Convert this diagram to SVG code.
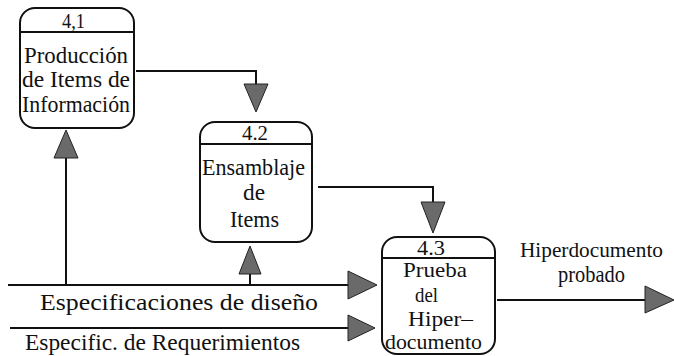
<svg xmlns="http://www.w3.org/2000/svg" width="674" height="356" viewBox="0 0 674 356">
<style>
.box{fill:#fff;stroke:#111;stroke-width:2}
.hdr{stroke:#111;stroke-width:2.2}
.ln{fill:none;stroke:#111;stroke-width:2}
.ah{fill:#6a6a6a;stroke:#222;stroke-width:1}
text{font-family:"Liberation Serif","DejaVu Serif",serif;font-size:24px;fill:#111}
text.num{font-size:20px}
text.sm{font-size:22px}
</style>
<rect width="674" height="356" fill="#fff"/>
<g id="connectors">
<polyline class="ln" points="136,71 256,71 256,84"/>
<polygon class="ah" points="244,84 268,84 256,112"/>
<polyline class="ln" points="318,187 433,187 433,202"/>
<polygon class="ah" points="421,202 445,202 433,233"/>
<line class="ln" x1="8" y1="285" x2="350" y2="285"/>
<polygon class="ah" points="348,271 348,299 377,285"/>
<line class="ln" x1="66" y1="285" x2="66" y2="158"/>
<polygon class="ah" points="54,158 78,158 66,130"/>
<line class="ln" x1="250" y1="285" x2="250" y2="274"/>
<polygon class="ah" points="239,274 261,274 250,246"/>
<line class="ln" x1="10" y1="328" x2="350" y2="328"/>
<polygon class="ah" points="348,315 348,341 375,328"/>
<line class="ln" x1="497" y1="300" x2="646" y2="300"/>
<polygon class="ah" points="645,286 645,313 674,300"/>
<text x="40" y="310" textLength="278" lengthAdjust="spacingAndGlyphs">Especificaciones de diseño</text>
<text x="25" y="350" textLength="275" lengthAdjust="spacingAndGlyphs">Especific. de Requerimientos</text>
<text x="520" y="257" style="font-size:21px" textLength="143" lengthAdjust="spacingAndGlyphs">Hiperdocumento</text>
<text x="558" y="282" textLength="67" lengthAdjust="spacingAndGlyphs">probado</text>
</g>
<g id="node-4-1">
<rect class="box" x="20" y="8" width="114" height="120" rx="15"/>
<line class="hdr" x1="20" y1="32" x2="134" y2="32"/>
<text class="num" x="62" y="28" textLength="23" lengthAdjust="spacingAndGlyphs">4,1</text>
<text x="24" y="63" textLength="104" lengthAdjust="spacingAndGlyphs">Producción</text>
<text x="22" y="87" textLength="108" lengthAdjust="spacingAndGlyphs">de Items de</text>
<text x="22" y="112" textLength="108" lengthAdjust="spacingAndGlyphs">Información</text>
</g>
<g id="node-4-2">
<rect class="box" x="200" y="122" width="112" height="120" rx="15"/>
<line class="hdr" x1="200" y1="144" x2="312" y2="144"/>
<text class="num" x="242" y="140" textLength="26" lengthAdjust="spacingAndGlyphs">4.2</text>
<text x="202" y="175" textLength="103" lengthAdjust="spacingAndGlyphs">Ensamblaje</text>
<text x="243" y="200" textLength="22" lengthAdjust="spacingAndGlyphs">de</text>
<text x="230" y="227" textLength="49" lengthAdjust="spacingAndGlyphs">Items</text>
</g>
<g id="node-4-3">
<rect class="box" x="382" y="237" width="113" height="117" rx="15"/>
<line class="hdr" x1="382" y1="258" x2="495" y2="258"/>
<text class="num" x="417" y="255" textLength="28" lengthAdjust="spacingAndGlyphs">4.3</text>
<text class="sm" x="403" y="277" textLength="64" lengthAdjust="spacingAndGlyphs">Prueba</text>
<text class="sm" x="415" y="302" textLength="23" lengthAdjust="spacingAndGlyphs">del</text>
<text class="sm" x="408" y="326" textLength="65" lengthAdjust="spacingAndGlyphs">Hiper–</text>
<text class="sm" x="385" y="349" textLength="97" lengthAdjust="spacingAndGlyphs">documento</text>
</g>
</svg>
